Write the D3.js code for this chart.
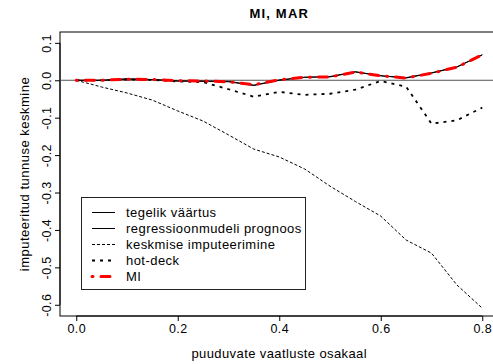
<!DOCTYPE html>
<html>
<head>
<meta charset="utf-8">
<script src="https://cdn.jsdelivr.net/npm/d3@7"></script>
<style>
  body { margin: 0; background: #fff; }
  svg { font-family: "Liberation Sans", Arial, sans-serif; }
</style>
</head>
<body>
<div id="root"></div>
<script>
// puuduvate vaatluste osakaal (x)
const osakaal = [0, 0.05, 0.1, 0.15, 0.2, 0.25, 0.3, 0.35, 0.4, 0.45, 0.5, 0.55, 0.6, 0.65, 0.7, 0.75, 0.8];
// imputeeritud tunnuse keskmine, iga meetodi kohta
const tegelik = [0, 0.000, 0.004, 0.002, -0.002, -0.002, -0.003, -0.013, 0.001, 0.008, 0.010, 0.023, 0.012, 0.007, 0.020, 0.036, 0.068];
const regressioon = [0, 0.000, 0.003, 0.002, -0.002, -0.003, -0.004, -0.014, 0.000, 0.008, 0.009, 0.022, 0.012, 0.006, 0.019, 0.035, 0.068];
const keskmine = [0, -0.018, -0.034, -0.053, -0.082, -0.109, -0.146, -0.184, -0.205, -0.237, -0.283, -0.324, -0.363, -0.427, -0.462, -0.547, -0.609];
const hotdeck = [0, 0.000, 0.002, 0.001, -0.003, -0.005, -0.024, -0.044, -0.031, -0.039, -0.036, -0.025, -0.002, -0.017, -0.116, -0.107, -0.073];
const mi = [0, 0.000, 0.003, 0.002, -0.001, -0.002, -0.004, -0.012, 0.001, 0.008, 0.009, 0.022, 0.012, 0.006, 0.019, 0.035, 0.068];

const xTicks = [0, 0.2, 0.4, 0.6, 0.8];
const yTicks = [-0.6, -0.5, -0.4, -0.3, -0.2, -0.1, 0, 0.1];

const series = [
  { name: "tegelik väärtus", values: tegelik, color: "#000", width: 1, dash: null },
  { name: "regressioonmudeli prognoos", values: regressioon, color: "#000", width: 1, dash: null },
  { name: "keskmise imputeerimine", values: keskmine, color: "#000", width: 1, dash: "3 2" },
  { name: "hot-deck", values: hotdeck, color: "#000", width: 1.8, dash: "3 5" },
  { name: "MI", values: mi, color: "#ff0000", width: 3, dash: "1 8 9 8", cap: "round" }
];

const width = 493, height = 364;
const plot = { left: 60, top: 32, right: 498.5, bottom: 316 };

const svg = d3.select("#root").append("svg")
  .attr("width", width).attr("height", height);

const x = d3.scaleLinear().domain([-0.032, 0.832]).range([plot.left, plot.right]);
const y = d3.scaleLinear().domain([-0.630, 0.129]).range([plot.bottom, plot.top]);

// plot box
svg.append("rect")
  .attr("x", plot.left).attr("y", plot.top)
  .attr("width", plot.right - plot.left).attr("height", plot.bottom - plot.top)
  .attr("fill", "none").attr("stroke", "#000").attr("stroke-width", 1);

// x axis
const xAxis = svg.append("g")
  .attr("transform", `translate(0,${plot.bottom})`)
  .call(d3.axisBottom(x).tickValues(xTicks).tickFormat(d => d.toFixed(1)).tickSize(5).tickSizeOuter(0));
xAxis.select(".domain").remove();
xAxis.append("line")
  .attr("x1", x(xTicks[0])).attr("x2", x(xTicks[xTicks.length - 1]))
  .attr("stroke", "#000");
xAxis.selectAll("text")
  .attr("y", 16.5).attr("dy", null)
  .attr("fill", "#000")
  .style("font-size", "12.5px").style("letter-spacing", "0.4px")
  .style("font-family", "Liberation Sans, Arial, sans-serif");

// y axis, rotated labels like R
const yAxis = svg.append("g")
  .attr("transform", `translate(${plot.left},0)`)
  .call(d3.axisLeft(y).tickValues(yTicks).tickFormat(d => d.toFixed(1)).tickSize(5).tickSizeOuter(0));
yAxis.select(".domain").remove();
yAxis.append("line")
  .attr("y1", y(yTicks[0])).attr("y2", y(yTicks[yTicks.length - 1]))
  .attr("stroke", "#000");
yAxis.selectAll("text")
  .attr("x", null).attr("dy", null)
  .attr("transform", "translate(-9.5,0) rotate(-90)")
  .attr("text-anchor", "middle")
  .attr("fill", "#000")
  .style("font-size", "12.5px").style("letter-spacing", "0.4px")
  .style("font-family", "Liberation Sans, Arial, sans-serif");

// zero line
svg.append("line")
  .attr("x1", plot.left).attr("x2", plot.right)
  .attr("y1", y(0)).attr("y2", y(0))
  .attr("stroke", "#555").attr("stroke-width", 1);

// lines
const line = d3.line()
  .x((d, i) => x(osakaal[i]))
  .y(d => y(d));

series.forEach(s => {
  svg.append("path")
    .datum(s.values)
    .attr("d", line)
    .attr("fill", "none")
    .attr("stroke", s.color)
    .attr("stroke-width", s.width)
    .attr("stroke-dasharray", s.dash)
    .attr("stroke-linecap", s.cap || "butt")
    .attr("stroke-linejoin", "round");
});

// titles
svg.append("text")
  .attr("x", (plot.left + plot.right) / 2).attr("y", 18)
  .attr("text-anchor", "middle")
  .style("font-size", "13px").style("font-weight", "bold").style("letter-spacing", "1.2px")
  .text("MI, MAR");

svg.append("text")
  .attr("x", (plot.left + plot.right) / 2).attr("y", 358)
  .attr("text-anchor", "middle")
  .style("font-size", "13px").style("letter-spacing", "0.4px")
  .text("puuduvate vaatluste osakaal");

svg.append("text")
  .attr("transform", `translate(29,${(plot.top + plot.bottom) / 2}) rotate(-90)`)
  .attr("text-anchor", "middle")
  .style("font-size", "13px").style("letter-spacing", "0.5px")
  .text("imputeeritud tunnuse keskmine");

// legend
const legend = svg.append("g");
legend.append("rect")
  .attr("x", 81.5).attr("y", 197.5)
  .attr("width", 224).attr("height", 92)
  .attr("fill", "#fff").attr("stroke", "#222");

series.forEach((s, i) => {
  const cy = 212.5 + i * 16;
  legend.append("line")
    .attr("x1", 92).attr("x2", 115)
    .attr("y1", cy).attr("y2", cy)
    .attr("stroke", s.color)
    .attr("stroke-width", s.width)
    .attr("stroke-dasharray", s.dash)
    .attr("stroke-linecap", s.cap || "butt");
  legend.append("text")
    .attr("x", 126).attr("y", cy + 4.5)
    .style("font-size", "13px").style("letter-spacing", "0.45px")
    .text(s.name);
});
</script>
</body>
</html>
